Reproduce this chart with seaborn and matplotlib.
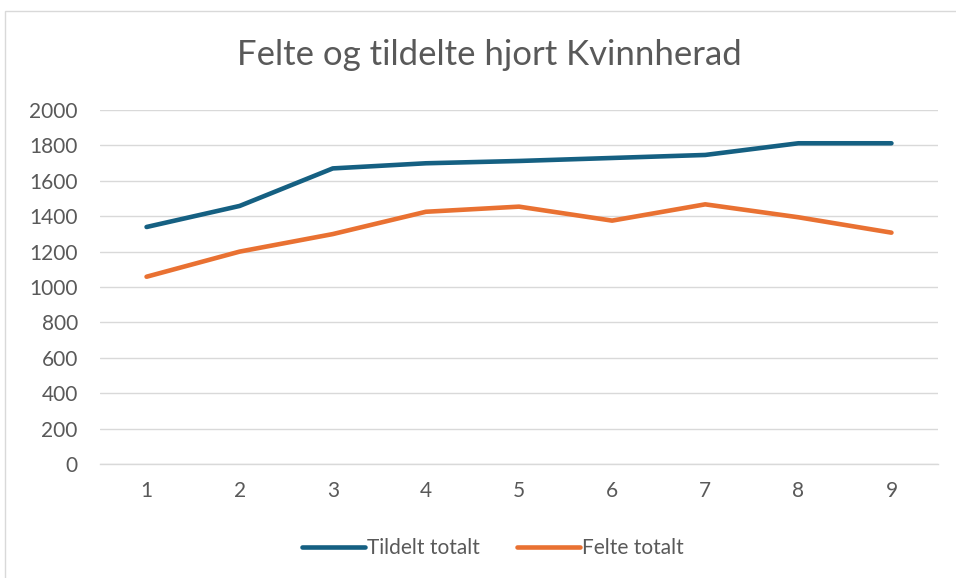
import matplotlib
matplotlib.use("Agg")
import matplotlib.pyplot as plt
import seaborn as sns
import pandas as pd
from matplotlib.patches import Rectangle
from matplotlib.lines import Line2D

years = [1, 2, 3, 4, 5, 6, 7, 8, 9]
tildelt = [1339, 1458, 1670, 1699, 1712, 1729, 1746, 1812, 1812]
felte = [1058, 1200, 1299, 1425, 1454, 1375, 1467, 1394, 1307]
series_names = ["Tildelt totalt", "Felte totalt"]
colors = ["#156082", "#E97132"]
yticks = [0, 200, 400, 600, 800, 1000, 1200, 1400, 1600, 1800, 2000]

df = pd.DataFrame({
    "x": years * 2,
    "y": tildelt + felte,
    "serie": [series_names[0]] * len(years) + [series_names[1]] * len(years),
})

sns.set_theme(style="white")
plt.rcParams["font.family"] = ["Lato", "DejaVu Sans"]
txt = "#595959"
fs = 15

fig = plt.figure(figsize=(9.56, 5.78), dpi=100)
ax = fig.add_axes([100 / 956, 114 / 578, 838 / 956, 354 / 578])

sns.lineplot(data=df, x="x", y="y", hue="serie", palette=colors, ax=ax,
             linewidth=3.3, legend=False, solid_capstyle="round", solid_joinstyle="round")

ax.set_xlim(0.5, 9.5)
ax.set_ylim(0, 2000)
ax.set_yticks(yticks)
ax.set_xticks(years)
ax.set_xticklabels([str(v) for v in years])
ax.set_xlabel("")
ax.set_ylabel("")
ax.grid(axis="y", color="#D9D9D9", linewidth=1.0)
ax.grid(axis="x", visible=False)
ax.set_axisbelow(True)
for s in ["top", "right", "left"]:
    ax.spines[s].set_visible(False)
ax.spines["bottom"].set_color("#D9D9D9")
ax.spines["bottom"].set_linewidth(1.0)
ax.tick_params(axis="both", length=0, colors=txt, labelsize=fs)
ax.tick_params(axis="y", pad=16)
ax.tick_params(axis="x", pad=12)

fig.text(489 / 956, 1 - 55 / 578, "Felte og tildelte hjort Kvinnherad",
         ha="center", va="center", fontsize=25, color=txt)

handles = [Line2D([0], [0], color=c, linewidth=3.3, solid_capstyle="round") for c in colors]
leg = fig.legend(handles, series_names, loc="center", bbox_to_anchor=(493 / 956, 1 - 548 / 578),
                 ncol=2, frameon=False, fontsize=fs, handlelength=3.0, handletextpad=0.1,
                 columnspacing=1.8)
for t in leg.get_texts():
    t.set_color(txt)

fig.patches.append(Rectangle((5 / 956, -0.01), 1.0, 1 - 11 / 578 + 0.01,
                             transform=fig.transFigure, fill=False,
                             edgecolor="#D9D9D9", linewidth=1.0))

fig.savefig("out.png", dpi=100)
